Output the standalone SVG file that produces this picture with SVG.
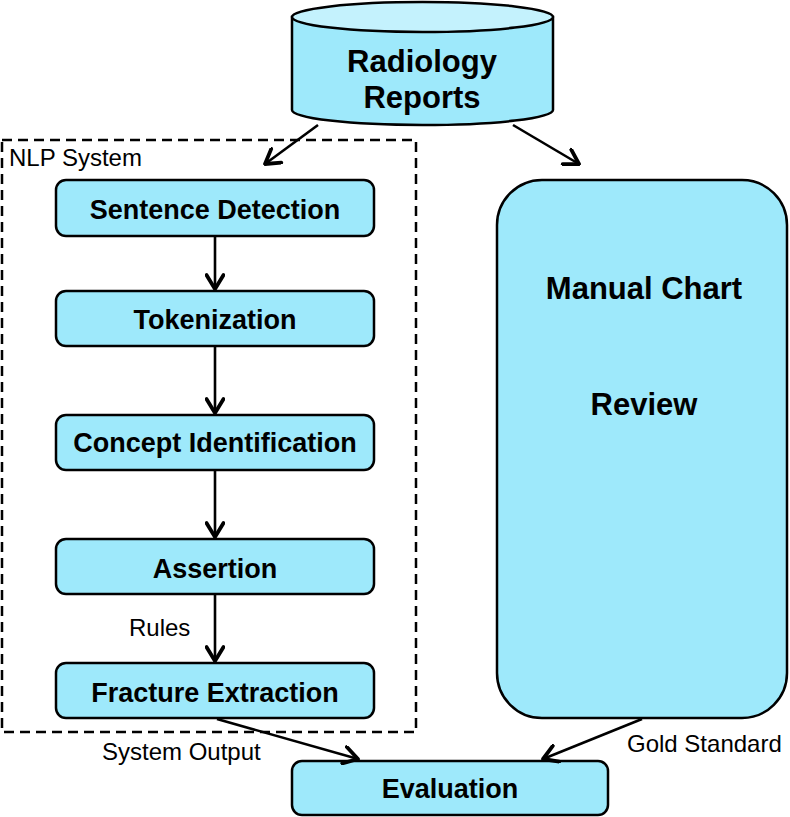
<svg xmlns="http://www.w3.org/2000/svg" width="790" height="817" viewBox="0 0 790 817">
  <style>
    .box { fill: #9ee9fb; stroke: #000; stroke-width: 2.5; }
    .top { fill: #c4f2fd; stroke: #000; stroke-width: 2.5; }
    .t { font-family: "Liberation Sans", Arial, sans-serif; font-weight: bold; font-size: 27px; text-anchor: middle; fill: #000; }
    .big { font-size: 31px; }
    .lbl { font-family: "Liberation Sans", Arial, sans-serif; font-size: 24px; fill: #000; }
    .edge { stroke: #000; stroke-width: 2.6; fill: none; marker-end: url(#arr); }
    .dash { fill: none; stroke: #000; stroke-width: 2.5; stroke-dasharray: 10 6; }
  </style>
  <defs>
    <marker id="arr" viewBox="0 0 18 20" markerWidth="18" markerHeight="20" refX="16" refY="10" orient="auto" markerUnits="userSpaceOnUse">
      <path d="M2,1.5 L16,10 L2,18.5" fill="none" stroke="#000" stroke-width="3.8" stroke-linecap="round" stroke-linejoin="round"/>
    </marker>
  </defs>
  <rect width="790" height="817" fill="#fff"/>

  <g id="nlp-system">
    <rect class="dash" x="2" y="140" width="414" height="592"/>
    <text class="lbl" x="9" y="166">NLP System</text>
  </g>

  <g id="radiology-reports">
    <path class="box" d="M292,17 L292,110 A130.5,15 0 0 0 553,110 L553,17 Z"/>
    <ellipse class="top" cx="422.5" cy="17" rx="130.5" ry="15"/>
    <text class="t big" x="422" y="72">Radiology</text>
    <text class="t big" x="422" y="108">Reports</text>
  </g>

  <g id="sentence-detection">
    <rect class="box" x="56" y="180" width="318" height="56" rx="10"/>
    <text class="t" x="215" y="219">Sentence Detection</text>
  </g>
  <g id="tokenization">
    <rect class="box" x="56" y="291" width="318" height="55" rx="10"/>
    <text class="t" x="215" y="329">Tokenization</text>
  </g>
  <g id="concept-identification">
    <rect class="box" x="56" y="415" width="318" height="55" rx="10"/>
    <text class="t" x="215" y="452">Concept Identification</text>
  </g>
  <g id="assertion">
    <rect class="box" x="56" y="539" width="318" height="55" rx="10"/>
    <text class="t" x="215" y="578">Assertion</text>
  </g>
  <g id="fracture-extraction">
    <rect class="box" x="56" y="663" width="318" height="55" rx="10"/>
    <text class="t" x="215" y="702">Fracture Extraction</text>
  </g>

  <g id="manual-chart-review">
    <rect class="box" x="497" y="180" width="290" height="538" rx="45"/>
    <text class="t big" x="644" y="299">Manual Chart</text>
    <text class="t big" x="644" y="415">Review</text>
  </g>

  <g id="evaluation">
    <rect class="box" x="292" y="761" width="316" height="54" rx="10"/>
    <text class="t" x="450" y="798">Evaluation</text>
  </g>

  <g id="connectors">
    <line class="edge" x1="318" y1="125" x2="265" y2="164"/>
    <line class="edge" x1="513" y1="125" x2="579" y2="164"/>
    <line class="edge" x1="215" y1="236" x2="215" y2="289"/>
    <line class="edge" x1="215" y1="346" x2="215" y2="413"/>
    <line class="edge" x1="215" y1="470" x2="215" y2="537"/>
    <line class="edge" x1="215" y1="594" x2="215" y2="661"/>
    <line class="edge" x1="217" y1="719" x2="358" y2="759"/>
    <line class="edge" x1="642" y1="719" x2="543" y2="759"/>
    <text class="lbl" x="129" y="636">Rules</text>
    <text class="lbl" x="102" y="760">System Output</text>
    <text class="lbl" x="627" y="752">Gold Standard</text>
  </g>
</svg>
